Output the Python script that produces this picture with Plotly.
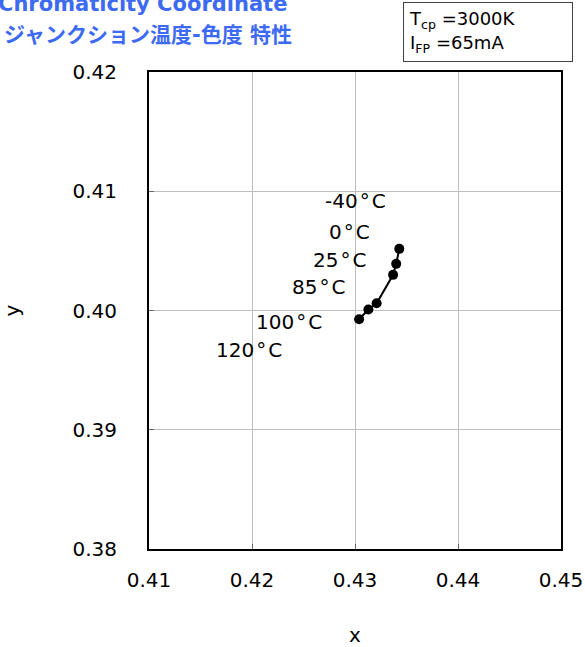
import plotly.graph_objects as go

# chromaticity points, -40C .. 120C
temps = ['-40\u200a°\u200aC', '0\u200a°\u200aC', '25\u200a°\u200aC',
         '85\u200a°\u200aC', '100\u200a°\u200aC', '120\u200a°\u200aC']
cx = [0.4343, 0.4340, 0.4337, 0.4321, 0.4313, 0.4304]
cy = [0.40517, 0.40391, 0.40299, 0.40061, 0.40008, 0.39927]

# where the temperature labels sit (data coords)
label_x = [0.4300, 0.42951, 0.42854, 0.4265, 0.42359, 0.41971]
label_y = [0.40917, 0.40661, 0.40423, 0.40197, 0.39904, 0.39669]

x_ticks = [0.41, 0.42, 0.43, 0.44, 0.45]
y_ticks = [0.38, 0.39, 0.40, 0.41, 0.42]

font = 'DejaVu Sans, Verdana, sans-serif'

fig = go.Figure()
fig.add_trace(go.Scatter(
    x=cx, y=cy, mode='lines+markers',
    line=dict(color='black', width=2),
    marker=dict(color='black', size=10),
    showlegend=False, hoverinfo='skip'))

for t, lx, ly in zip(temps, label_x, label_y):
    fig.add_annotation(x=lx, y=ly, text=t, showarrow=False,
                       font=dict(size=20, color='black', family=font))

# blue title, partly cut off on the left like the original
title_font = dict(size=21, color='#3D6AF2', family='DejaVu Sans, Noto Sans CJK JP')
fig.add_annotation(xref='paper', yref='paper', x=0.340, y=1.1426,
                   xanchor='right', yanchor='middle', showarrow=False,
                   text='<b>Chromaticity Coordinate</b>', font=title_font)
fig.add_annotation(xref='paper', yref='paper', x=0.352, y=1.0776,
                   xanchor='right', yanchor='middle', showarrow=False,
                   text='<b>ジャンクション温度-色度 特性</b>', font=title_font)

# condition box
fig.add_annotation(
    xref='paper', yref='paper', x=0.823, y=1.084, xanchor='center', yanchor='middle',
    text='T<sub>cp</sub> =3000K<br>I<sub>FP</sub> =65mA', align='left',
    showarrow=False, bordercolor='#444', borderwidth=1, borderpad=5,
    bgcolor='white', width=158, height=48,
    font=dict(size=18, color='black', family=font))

axis_common = dict(
    showgrid=True, gridcolor='#bdbdbd', gridwidth=1,
    showline=True, linecolor='black', linewidth=2, mirror=True,
    ticks='inside', ticklen=5, tickcolor='#666', zeroline=False,
    automargin=False,
    tickfont=dict(size=20, color='black', family=font),
    title_font=dict(size=20, color='black', family=font))

fig.update_xaxes(range=[0.41, 0.45], tickvals=x_ticks, tickformat='.2f',
                 title_text='x', title_standoff=62, ticklabelstandoff=12, **axis_common)
fig.update_yaxes(range=[0.38, 0.42], tickvals=y_ticks, tickformat='.2f',
                 title_text='y', title_standoff=60, ticklabelstandoff=26, **axis_common)

fig.update_layout(
    width=585, height=647,
    margin=dict(l=149, r=24, t=72, b=98),
    plot_bgcolor='white', paper_bgcolor='white',
    font=dict(family=font))

fig.write_html('out.html', config={'displayModeBar': False},
               post_script="document.body.style.margin='0';")
